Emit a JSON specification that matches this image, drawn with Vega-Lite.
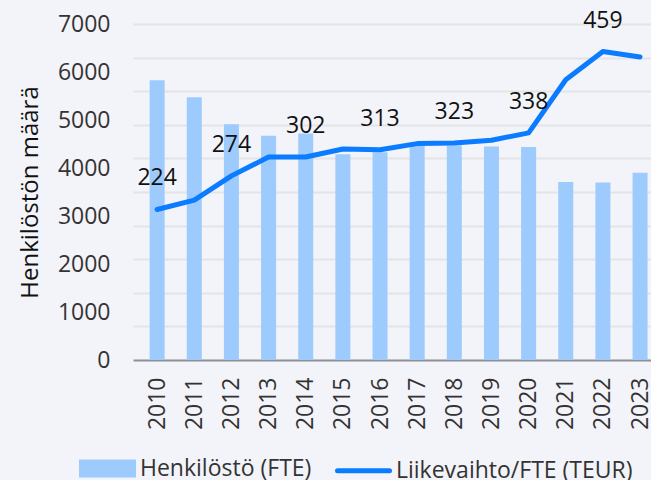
{
  "$schema": "https://vega.github.io/schema/vega-lite/v6.json",
  "width": 518,
  "height": 336,
  "autosize": {"type": "none"},
  "padding": {"left": 133, "top": 24, "right": 0, "bottom": 120},
  "background": "#f3f4f9",
  "config": {
    "view": {"stroke": null},
    "font": "Open Sans",
    "axis": {"labelFont": "Open Sans", "titleFont": "Open Sans"},
    "legend": {"labelFont": "Open Sans"},
    "text": {"font": "Open Sans"}
  },
  "data": {
    "values": [
      {"vuosi": 2010, "henkilosto": 5830, "liikevaihto": 224, "label": 224},
      {"vuosi": 2011, "henkilosto": 5475, "liikevaihto": 238, "label": null},
      {"vuosi": 2012, "henkilosto": 4910, "liikevaihto": 274, "label": 274},
      {"vuosi": 2013, "henkilosto": 4670, "liikevaihto": 302, "label": null},
      {"vuosi": 2014, "henkilosto": 4720, "liikevaihto": 302, "label": 302},
      {"vuosi": 2015, "henkilosto": 4285, "liikevaihto": 314, "label": null},
      {"vuosi": 2016, "henkilosto": 4330, "liikevaihto": 313, "label": 313},
      {"vuosi": 2017, "henkilosto": 4470, "liikevaihto": 322, "label": null},
      {"vuosi": 2018, "henkilosto": 4470, "liikevaihto": 323, "label": 323},
      {"vuosi": 2019, "henkilosto": 4450, "liikevaihto": 327, "label": null},
      {"vuosi": 2020, "henkilosto": 4440, "liikevaihto": 338, "label": 338},
      {"vuosi": 2021, "henkilosto": 3710, "liikevaihto": 417, "label": null},
      {"vuosi": 2022, "henkilosto": 3700, "liikevaihto": 459, "label": 459},
      {"vuosi": 2023, "henkilosto": 3900, "liikevaihto": 451, "label": null}
    ]
  },
  "encoding": {
    "x": {
      "field": "vuosi",
      "type": "quantitative",
      "scale": {"domain": [2009.485, 2023.16], "nice": false, "zero": false},
      "axis": {
        "values": [2010, 2011, 2012, 2013, 2014, 2015, 2016, 2017, 2018, 2019, 2020, 2021, 2022, 2023],
        "format": "d",
        "labelAngle": -90,
        "title": null,
        "grid": false,
        "ticks": false,
        "tickSize": 0,
        "labelPadding": 17,
        "labelFontSize": 23,
        "labelColor": "#333333",
        "domainColor": "#8a9096",
        "domainWidth": 2,
        "labelFlush": false,
        "labelOverlap": false
      }
    }
  },
  "layer": [
    {
      "mark": {"type": "bar", "width": 15, "orient": "vertical"},
      "encoding": {
        "y": {
          "field": "henkilosto",
          "type": "quantitative",
          "scale": {"domain": [0, 7000], "nice": false},
          "axis": {
            "title": "Henkilöstön määrä",
            "values": [0, 1000, 2000, 3000, 4000, 5000, 6000, 7000],
            "format": "d",
            "grid": false,
            "domain": false,
            "ticks": false,
            "tickSize": 0,
            "labelPadding": 23,
            "labelFontSize": 23,
            "labelColor": "#333333",
            "titleFontSize": 24,
            "titleFontWeight": "normal",
            "titleColor": "#111111",
            "titlePadding": 15
          }
        },
        "color": {
          "datum": "Henkilöstö (FTE)",
          "scale": {"domain": ["Henkilöstö (FTE)", "Liikevaihto/FTE (TEUR)"], "range": ["#9dcbfd", "#0b7bff"]},
          "legend": {
            "orient": "none",
            "legendX": -54,
            "legendY": 416,
            "direction": "horizontal",
            "title": null,
            "padding": 0,
            "symbolSize": 2704,
            "labelFontSize": 23,
            "labelColor": "#333333",
            "labelOffset": 4,
            "labelLimit": 400,
            "columnPadding": 15,
            "symbolStrokeWidth": 5,
            "encode": {
              "symbols": {
                "update": {
                  "shape": {"signal": "datum.value === 'Henkilöstö (FTE)' ? 'M-1,-0.25H1V0.25H-1Z' : 'stroke'"},
                  "fill": {"signal": "datum.value === 'Henkilöstö (FTE)' ? '#9dcbfd' : 'transparent'"},
                  "stroke": {"signal": "datum.value === 'Henkilöstö (FTE)' ? 'transparent' : '#0b7bff'"},
                  "strokeWidth": {"value": 5},
                  "strokeCap": {"value": "round"},
                  "opacity": {"value": 1}
                }
              }
            }
          }
        }
      }
    },
    {
      "encoding": {
        "y": {
          "field": "liikevaihto",
          "type": "quantitative",
          "scale": {"domain": [0, 500], "nice": false},
          "axis": {
            "orient": "right",
            "title": null,
            "grid": true,
            "gridColor": "#e3e4e8",
            "gridWidth": 2,
            "values": [50, 100, 150, 200, 250, 300, 350, 400, 450, 500],
            "labels": false,
            "ticks": false,
            "domain": false
          }
        }
      },
      "layer": [
        {
          "mark": {"type": "line", "strokeWidth": 5, "strokeCap": "round", "strokeJoin": "round"},
          "encoding": {"color": {"datum": "Liikevaihto/FTE (TEUR)"}}
        },
        {
          "transform": [{"filter": "datum.label != null"}],
          "mark": {"type": "text", "dy": -24, "baseline": "alphabetic", "fontSize": 23, "color": "#111111"},
          "encoding": {"text": {"field": "label", "type": "quantitative"}}
        }
      ]
    }
  ],
  "resolve": {"scale": {"y": "independent"}}
}
